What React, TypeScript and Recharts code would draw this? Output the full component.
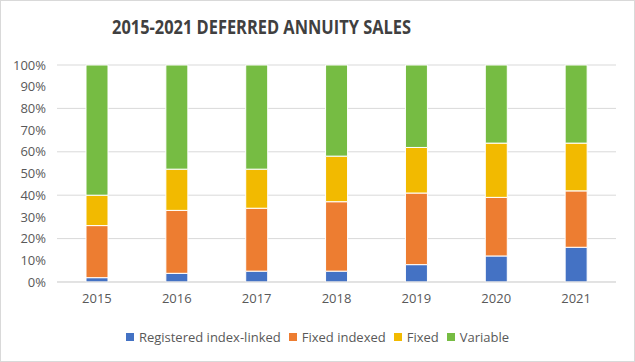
import React from 'react';
import { BarChart, Bar, XAxis, YAxis, CartesianGrid, Legend } from 'recharts';

const years = ['2015', '2016', '2017', '2018', '2019', '2020', '2021'];
const registeredIndexLinked = [2, 4, 5, 5, 8, 12, 16];
const fixedIndexed = [24, 29, 29, 32, 33, 27, 26];
const fixed = [14, 19, 18, 21, 21, 25, 22];
const variable = [60, 48, 48, 42, 38, 36, 36];
const yTicks = [0, 10, 20, 30, 40, 50, 60, 70, 80, 90, 100];

const seriesNames = ['Registered index-linked', 'Fixed indexed', 'Fixed', 'Variable'];
const seriesKeys = ['ril', 'fi', 'f', 'v'];
const seriesColors = ['#4472C4', '#ED7D31', '#F2BA00', '#76BC43'];

const data = years.map((y, i) => ({
  year: y,
  ril: registeredIndexLinked[i],
  fi: fixedIndexed[i],
  f: fixed[i],
  v: variable[i],
}));

const FONT = '"Open Sans", sans-serif';
const GRAY = '#595959';

const LegendContent = () => (
  <div style={{ display: 'flex', justifyContent: 'center', alignItems: 'center', fontFamily: FONT, fontSize: 13, color: GRAY, lineHeight: '18px' }}>
    {seriesNames.map((n, i) => (
      <div key={n} style={{ display: 'flex', alignItems: 'center', marginLeft: 4, marginRight: 4 }}>
        <span style={{ width: 8, height: 8, background: seriesColors[i], display: 'inline-block', marginRight: 5 }} />
        <span>{n}</span>
      </div>
    ))}
  </div>
);

export default function App() {
  return (
    <div style={{ position: 'fixed', left: 0, top: 0, width: 635, height: 362, background: '#fff' }}>
      <div style={{ position: 'absolute', left: 0, top: 0, width: 633, height: 360, border: '1px solid #d9d9d9' }} />
      <svg style={{ position: 'absolute', left: 0, top: 0 }} width={635} height={50}>
        <text x={261.5} y={34} textAnchor="middle" fontFamily={FONT} fontWeight={700} fontSize={20} fill="#404040" textLength={299} lengthAdjust="spacingAndGlyphs">
          2015-2021 DEFERRED ANNUITY SALES
        </text>
      </svg>
      <div style={{ position: 'absolute', left: 0, top: 0 }}>
        <BarChart width={635} height={362} data={data} margin={{ top: 65, right: 19, bottom: 32, left: 0 }} barSize={22}>
          <CartesianGrid vertical={false} stroke="#d9d9d9" />
          <XAxis dataKey="year" tickLine={false} axisLine={{ stroke: '#d9d9d9' }} tick={{ fill: GRAY, fontSize: 13, fontFamily: FONT }} tickMargin={6} height={30} />
          <YAxis domain={[0, 100]} ticks={yTicks} tickFormatter={(v) => `${v}%`} tickLine={false} axisLine={false} tick={{ fill: GRAY, fontSize: 13, fontFamily: FONT }} tickMargin={5} width={57} />
          <Legend verticalAlign="bottom" content={<LegendContent />} wrapperStyle={{ top: 328, left: 0, width: 635 }} />
          {seriesKeys.map((k, i) => (
            <Bar key={k} dataKey={k} name={seriesNames[i]} stackId="a" fill={seriesColors[i]} stroke="#fff" strokeWidth={1} isAnimationActive={false} />
          ))}
        </BarChart>
      </div>
    </div>
  );
}
